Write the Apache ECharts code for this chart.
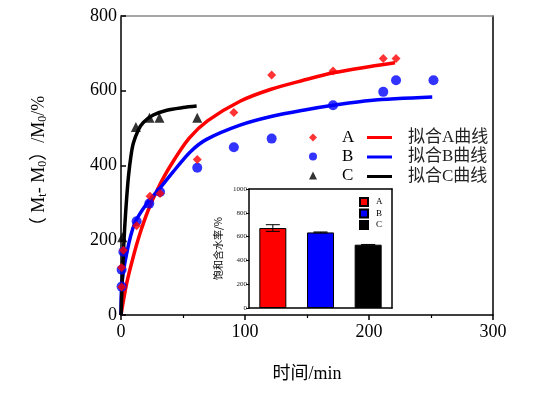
<!DOCTYPE html>
<html><head><meta charset="utf-8">
<script src="https://cdn.jsdelivr.net/npm/echarts@6/dist/echarts.min.js"></script>
<style>html,body{margin:0;padding:0;background:#fff}#c{width:538px;height:395px}</style>
</head><body><div id="c"></div>
<script>
// ---- data ----
const ptsA = [[0.5,75],[0.5,127],[1.9,173],[12.6,239],[23.4,318],[31.5,325],[61.5,416],[91,542],[121.5,642],[171,653],[211.5,686],[221.8,686]];
const ptsB = [[0.5,76],[0.5,121],[1.9,169],[12.6,251],[22.8,298],[31.5,329],[61.5,394],[91,449],[121.5,472],[171,561],[211.5,597],[221.8,628],[252,628]];
const ptsC = [[1,208],[12,503],[23,528],[31,528],[61.5,528]];
const fitA = [[0,0],[4.6,85],[9.9,156],[15.3,218],[22,281],[30,340],[40,400],[55,473],[70,520],[96,572],[121,604],[147,628],[171,648],[201,665],[221,675]];
const fitB = [[0,0],[0.5,76],[4.6,165],[11,245],[21,299],[31,338],[42,383],[56,437],[69,470],[96,508],[121,531],[147,548],[171,561],[201,574],[251,583]];
const fitC = [[0,0],[1,90],[2,170],[3,235],[4.5,310],[6,370],[8,425],[10,460],[14,495],[18,515],[26,535],[37,548],[50,555],[61,559]];
const xTicks = [0,100,200,300];
const yTicks = [0,200,400,600,800];
const insetCats = ['A','B','C'];
const insetVals = [672,635,532];
const insetErr = [28,4,2];
const insetYTicks = [0,200,400,600,800,1000];

const serif = "'Liberation Serif','Noto Sans CJK SC',serif";
const chart = echarts.init(document.getElementById('c'), null, {renderer:'canvas'});

function barData(i){ return insetCats.map((c,j)=> j===i ? insetVals[j] : '-'); }

chart.setOption({
  animation:false,
  backgroundColor:'#fff',
  grid:[
    {left:121, right:45, top:16, bottom:80},
    {left:249, top:189, width:143, height:119, show:true, backgroundColor:'#fff', borderWidth:0, z:10}
  ],
  xAxis:[
    {gridIndex:0, type:'value', min:xTicks[0], max:xTicks[xTicks.length-1], interval:100,
     axisLine:{lineStyle:{color:'#000', width:1.5}},
     axisTick:{inside:false, length:5, lineStyle:{color:'#000', width:1.5}},
     minorTick:{show:true, splitNumber:2, length:3, lineStyle:{color:'#000', width:1.2}},
     splitLine:{show:false},
     axisLabel:{fontFamily:serif, fontSize:18, color:'#000', margin:8},
     name:'时间/min', nameLocation:'middle', nameGap:50,
     nameTextStyle:{fontFamily:serif, fontSize:18, color:'#000'}},
    {gridIndex:0, type:'value', position:'top', min:0, max:300,
     axisLine:{show:true, onZero:false, lineStyle:{color:'#888', width:1.5}},
     axisTick:{show:false}, axisLabel:{show:false}, splitLine:{show:false}},
    {gridIndex:1, type:'category', data:insetCats, z:11,
     axisLine:{lineStyle:{color:'#000', width:1.5}},
     axisTick:{alignWithLabel:true, length:3, lineStyle:{color:'#000'}},
     axisLabel:{show:false}},
    {gridIndex:1, type:'category', data:insetCats, position:'top', z:11,
     axisLine:{show:true, onZero:false, lineStyle:{color:'#000', width:1.5}},
     axisTick:{show:false}, axisLabel:{show:false}}
  ],
  yAxis:[
    {gridIndex:0, type:'value', min:yTicks[0], max:yTicks[yTicks.length-1], interval:200,
     axisLine:{show:true, lineStyle:{color:'#000', width:1.5}},
     axisTick:{show:true, inside:true, length:5, lineStyle:{color:'#000', width:1.5}},
     splitLine:{show:false},
     axisLabel:{fontFamily:serif, fontSize:18, color:'#000', margin:4},
     name:'（ M{s|t}- M{s|0}）/M{s|0}/%', nameLocation:'middle', nameGap:72, nameRotate:90,
     nameTextStyle:{fontFamily:serif, fontSize:18, color:'#000',
       rich:{s:{fontFamily:serif, fontSize:12, color:'#000', padding:[8,0,0,0]}}}},
    {gridIndex:0, type:'value', position:'right', min:0, max:800,
     axisLine:{show:true, onZero:false, lineStyle:{color:'#000', width:1.5}},
     axisTick:{show:false}, axisLabel:{show:false}, splitLine:{show:false}},
    {gridIndex:1, type:'value', min:insetYTicks[0], max:insetYTicks[insetYTicks.length-1], interval:200, z:11,
     axisLine:{show:true, lineStyle:{color:'#000', width:1.5}},
     axisTick:{show:true, length:3, lineStyle:{color:'#000'}},
     splitLine:{show:false},
     axisLabel:{fontFamily:serif, fontSize:7, color:'#222', margin:2, formatter:function(v){return String(v);}},
     name:'饱和含水率/%', nameLocation:'middle', nameGap:26, nameRotate:90,
     nameTextStyle:{fontFamily:"'Noto Sans CJK SC',sans-serif", fontSize:10, color:'#000'}},
    {gridIndex:1, type:'value', position:'right', min:0, max:1000, z:11,
     axisLine:{show:true, onZero:false, lineStyle:{color:'#000', width:1.5}},
     axisTick:{show:false}, axisLabel:{show:false}, splitLine:{show:false}}
  ],
  legend:[
    {data:['A','B','C'], orient:'vertical', left:304, top:124, itemWidth:8, itemHeight:8, itemGap:2,
     textStyle:{fontFamily:serif, fontSize:17, color:'#000', padding:[0,0,0,20]}},
    {data:['拟合A曲线','拟合B曲线','拟合C曲线'], orient:'vertical', left:362, top:124, itemWidth:25, itemHeight:3, itemGap:2.5, icon:'rect',
     textStyle:{fontFamily:serif, fontSize:17, color:'#222', padding:[0,0,0,11]}},
    {data:['A ','B ','C '], orient:'vertical', left:354, top:192, itemWidth:8, itemHeight:8, itemGap:1.5, icon:'rect', z:12,
     textStyle:{fontFamily:serif, fontSize:9, color:'#000', padding:[0,0,0,3]}}
  ],
  series:[
    {name:'拟合A曲线', type:'line', xAxisIndex:0, yAxisIndex:0, data:fitA, smooth:0.3, showSymbol:false, symbol:'none',
     lineStyle:{color:'#ff0000', width:3.5}, itemStyle:{color:'#ff0000'}},
    {name:'拟合B曲线', type:'line', xAxisIndex:0, yAxisIndex:0, data:fitB, smooth:0.3, showSymbol:false, symbol:'none',
     lineStyle:{color:'#0000ff', width:3.5}, itemStyle:{color:'#0000ff'}},
    {name:'拟合C曲线', type:'line', xAxisIndex:0, yAxisIndex:0, data:fitC, smooth:0.3, showSymbol:false, symbol:'none',
     lineStyle:{color:'#000', width:3.5}, itemStyle:{color:'#000'}},
    {name:'A', type:'scatter', xAxisIndex:0, yAxisIndex:0, data:ptsA, symbol:'diamond', symbolSize:9,
     itemStyle:{color:'#ff0000'}, z:5},
    {name:'B', type:'scatter', xAxisIndex:0, yAxisIndex:0, data:ptsB, symbol:'circle', symbolSize:10,
     itemStyle:{color:'#0000ff'}, z:4},
    {name:'C', type:'scatter', xAxisIndex:0, yAxisIndex:0, data:ptsC, symbol:'triangle', symbolSize:10,
     itemStyle:{color:'#000'}, z:6},
    {name:'A ', type:'bar', xAxisIndex:2, yAxisIndex:2, data:barData(0), barWidth:27, barGap:'-100%', z:12,
     itemStyle:{color:'#ff0000', borderColor:'#000', borderWidth:1}},
    {name:'B ', type:'bar', xAxisIndex:2, yAxisIndex:2, data:barData(1), barWidth:27, barGap:'-100%', z:12,
     itemStyle:{color:'#0000ff', borderColor:'#000', borderWidth:1}},
    {name:'C ', type:'bar', xAxisIndex:2, yAxisIndex:2, data:barData(2), barWidth:27, barGap:'-100%', z:12,
     itemStyle:{color:'#000', borderColor:'#000', borderWidth:1}},
    {name:'err', type:'custom', xAxisIndex:2, yAxisIndex:2, z:13,
     data:insetCats.map((c,i)=>[i, insetVals[i]-insetErr[i], insetVals[i]+insetErr[i]]),
     renderItem:function(params, api){
       const lo = api.coord([api.value(0), api.value(1)]);
       const hi = api.coord([api.value(0), api.value(2)]);
       const w = 7;
       return {type:'group', children:[
         {type:'line', shape:{x1:hi[0], y1:hi[1], x2:lo[0], y2:lo[1]}, style:{stroke:'#000', lineWidth:1}},
         {type:'line', shape:{x1:hi[0]-w, y1:hi[1], x2:hi[0]+w, y2:hi[1]}, style:{stroke:'#000', lineWidth:1}},
         {type:'line', shape:{x1:lo[0]-w, y1:lo[1], x2:lo[0]+w, y2:lo[1]}, style:{stroke:'#000', lineWidth:1}}
       ]};
     }}
  ]
});
</script></body></html>
